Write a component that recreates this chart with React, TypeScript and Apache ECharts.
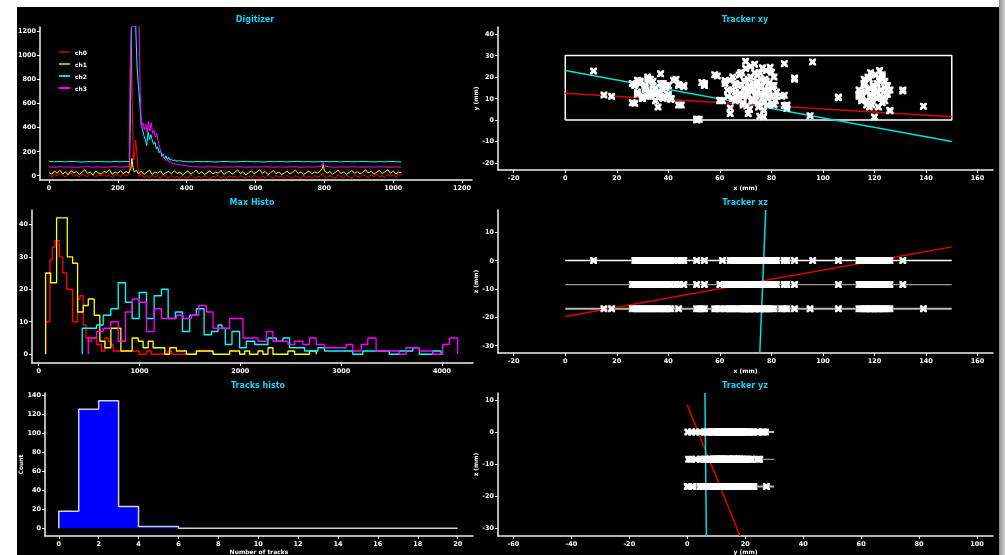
import React, { useEffect, useRef } from 'react';
import * as echarts from 'echarts';

const FONT = 'DejaVu Sans';

// ---------- Digitizer (sample index, ADC value) ----------
const CH0: number[][] = [[0,5],[8,-8],[16,12],[24,-3],[32,18],[40,2],[48,-10],[56,9],[64,22],[72,-5],[80,6],[88,-12],[96,14],[104,1],[112,-7],[120,19],[128,4],[136,-9],[144,11],[152,-2],[160,16],[168,-6],[176,8],[184,-14],[192,10],[200,3],[208,-8],[216,15],[224,-4],[230,6],[234,40],[237,600],[240,1070],[243,400],[246,130],[249,180],[252,296],[255,200],[258,75],[262,-10],[268,20],[276,-18],[284,5],[292,-22],[300,10],[308,-15],[316,2],[324,-25],[332,8],[340,-12],[348,-20],[356,4],[364,-16],[372,-6],[380,-24],[388,3],[396,-14],[404,-20],[412,6],[420,-10],[428,-22],[436,-4],[444,-18],[452,2],[460,-12],[468,-26],[476,-5],[484,-15],[492,8],[500,-20],[508,-8],[516,-24],[524,0],[532,-14],[540,-6],[548,-20],[556,4],[564,-12],[572,-22],[580,-3],[588,-16],[596,6],[604,-10],[612,-24],[620,-2],[628,-18],[636,8],[644,-8],[652,-20],[660,2],[668,-14],[676,-4],[684,-22],[692,5],[700,-12],[708,-18],[716,0],[724,-10],[732,-24],[740,4],[748,-15],[756,-6],[764,-20],[772,3],[780,-12],[788,-2],[796,20],[800,-8],[808,-18],[816,2],[824,-12],[832,-22],[840,6],[848,-8],[856,-16],[864,4],[872,-10],[880,-20],[888,8],[896,-6],[904,-14],[912,10],[920,-4],[928,-18],[936,6],[944,-8],[952,12],[960,-12],[968,0],[976,-16],[984,14],[992,-6],[1000,8],[1008,-10],[1016,16],[1023,2]];
const CH1: number[][] = [[0,25],[8,12],[16,38],[24,20],[32,45],[40,15],[48,30],[56,8],[64,42],[72,22],[80,35],[88,10],[96,28],[104,48],[112,18],[120,32],[128,5],[136,40],[144,22],[152,14],[160,36],[168,25],[176,50],[184,12],[192,30],[200,20],[208,42],[216,16],[224,34],[232,22],[238,60],[241,144],[244,70],[248,30],[254,45],[260,15],[268,38],[276,10],[284,28],[292,45],[300,12],[308,30],[316,20],[324,40],[332,8],[340,26],[348,35],[356,15],[364,42],[372,18],[380,30],[388,5],[396,24],[404,38],[412,12],[420,28],[428,46],[436,16],[444,32],[452,8],[460,25],[468,40],[476,14],[484,30],[492,20],[500,44],[508,10],[516,26],[524,36],[532,12],[540,28],[548,48],[556,18],[564,32],[572,6],[580,24],[588,40],[596,15],[604,30],[612,50],[620,20],[628,35],[636,10],[644,26],[652,42],[660,16],[668,30],[676,8],[684,22],[692,38],[700,14],[708,28],[716,45],[724,18],[732,32],[740,10],[748,24],[756,40],[764,16],[772,30],[780,22],[788,36],[794,60],[797,90],[800,40],[808,20],[816,34],[824,12],[832,28],[840,46],[848,18],[856,32],[864,10],[872,26],[880,42],[888,20],[896,34],[904,14],[912,30],[920,48],[928,22],[936,36],[944,12],[952,28],[960,44],[968,16],[976,32],[984,50],[992,20],[1000,38],[1008,14],[1016,30],[1023,24]];
const CH2: number[][] = [[0,118],[16,115],[32,117],[48,114],[64,118],[80,116],[96,113],[112,117],[128,115],[144,118],[160,116],[176,114],[192,117],[208,115],[224,118],[234,116],[237,600],[240,1240],[252,1240],[256,900],[260,750],[264,600],[268,420],[272,380],[276,330],[280,300],[284,250],[288,360],[292,300],[296,340],[300,295],[304,260],[308,280],[312,220],[316,240],[320,190],[324,210],[328,160],[332,180],[336,140],[340,165],[344,130],[348,155],[352,128],[356,140],[360,122],[366,130],[372,120],[380,125],[390,118],[400,116],[416,114],[432,118],[448,115],[464,117],[480,113],[496,116],[512,118],[528,115],[544,114],[560,117],[576,119],[592,115],[608,116],[624,113],[640,117],[656,115],[672,118],[688,114],[704,116],[720,119],[736,115],[752,117],[768,114],[784,116],[800,118],[816,115],[832,117],[848,114],[864,118],[880,116],[896,115],[912,119],[928,116],[944,114],[960,117],[976,115],[992,118],[1008,116],[1023,114]];
const CH3: number[][] = [[0,72],[16,70],[32,74],[48,71],[64,73],[80,69],[96,72],[112,75],[128,71],[144,73],[160,70],[176,72],[192,74],[208,71],[224,72],[233,75],[236,905],[239,1240],[250,1240],[262,1240],[265,700],[269,400],[273,440],[277,380],[281,430],[285,360],[289,448],[293,370],[297,440],[301,350],[305,380],[309,320],[313,350],[317,290],[321,240],[325,200],[329,185],[333,160],[337,140],[341,120],[345,135],[349,110],[353,118],[357,102],[361,100],[370,95],[380,90],[390,88],[400,80],[416,76],[432,73],[448,71],[464,74],[480,72],[496,70],[512,73],[528,71],[544,74],[560,72],[576,70],[592,73],[608,71],[624,74],[640,72],[656,70],[672,73],[688,71],[704,74],[720,72],[736,70],[752,73],[768,71],[784,74],[792,78],[796,110],[800,80],[816,72],[832,70],[848,73],[864,71],[880,74],[896,72],[912,70],[928,73],[944,71],[960,74],[976,72],[992,70],[1008,73],[1023,71]];
const CHANNELS = ['ch0', 'ch1', 'ch2', 'ch3'];

// ---------- Max Histo (bin edges, counts) ----------
const H0_EDGES = [69,112,135,162,205,238,277,337,386,409,442,469,492,525,574,624,657,690,716,739,779,997,1069,1118,1284,1320,1564,1729];
const H0_COUNTS = [10,29,33,35,30,25,20,10,17,18,9,5,4,5,3,1,5,4,3,1,1,0,1,0,1,0,1];
const H1_EDGES = [69,119,178,284,337,386,442,492,551,607,657,716,815,927,987,1036,1086,1135,1185,1251,1300,1366,1465,1564,1729,1894,1993,2043,2092,2175,2224,2274,2323,2472,2538,2686,2752];
const H1_COUNTS = [25,22,42,30,28,13,15,17,12,4,2,8,1,5,4,2,4,2,2,0,2,1,0,1,0,1,0,1,0,1,0,2,0,1,0,1];
const H2_EDGES = [432,574,640,716,789,861,927,997,1069,1145,1218,1284,1356,1426,1498,1564,1640,1713,1779,1818,1851,1917,1993,2059,2142,2274,2356,2422,2488,2637,2769,2835,3115,3214,3478,3577,3709,3775,3907,3990];
const H2_COUNTS = [8,9,12,14,22,16,11,19,11,18,20,11,13,7,12,14,6,7,9,8,3,7,2,4,3,5,4,5,2,1,2,1,0,1,0,1,2,0,1];
const H3_EDGES = [492,574,640,716,789,861,927,997,1069,1145,1218,1366,1432,1515,1587,1663,1729,1894,2026,2175,2257,2323,2472,2538,2620,2686,2752,2835,3049,3115,3198,3264,3346,3577,3643,3775,3907,4006,4072,4155];
const H3_COUNTS = [5,7,8,10,4,13,17,16,7,14,11,12,11,12,15,13,8,11,5,4,7,4,3,4,3,5,3,2,3,1,3,5,1,0,2,1,0,3,5];

// ---------- Tracks histo ----------
const NTRACK_EDGES = [0,1,2,3,4,5,6,20];
const NTRACK_COUNTS = [18,125,134,23,2,2,0];

// ---------- Tracker hits [x, y] per layer ----------
const LAYER_Z = [0, -8.5, -17];
const HITS_L0: number[][] = [[11,22.8],[27,16.5],[28,18.5],[29,17],[30,11],[31,15],[32,20],[33,13],[34,18],[35,12],[36,10.5],[37,21.5],[38,14],[39,16],[40,11],[41,10],[42,18.5],[44,16.5],[45,7],[46,15.5],[51,0.2],[54,17],[61,9],[64,18.5],[65,14],[66,9],[67,16],[67.5,21],[68,12],[69,7],[69.5,18],[70,24],[70.5,13],[71,3],[71.5,16],[72,20],[72.5,9],[73,14],[73.5,26],[74,11],[74.5,18],[75,6],[75.5,22],[76,15],[76.5,10],[77,1.5],[77.5,19],[78,13],[78.5,7],[79,17],[79.5,24.5],[80,11],[80.5,15],[81,20],[81.5,9],[82,13],[85,26.2],[86,6.7],[89,19.2],[96,27],[106,10.5],[114,11],[115,13],[116,16],[117,9],[118,19],[118.5,12],[119,7],[120,15],[120.5,21],[121,10],[122,23],[122.5,14],[123,8],[124,18],[124.5,12],[125,16],[126,4.3],[131,14]];
const HITS_L1: number[][] = [[26,8],[27,16],[28,12],[29,18],[30,10],[31,14],[32,19],[33,11],[34,16],[35,9],[36,13],[37,17],[38,10],[39,15],[40,12],[41,9.5],[43,19],[44,16],[46,16],[51,0.5],[54,16.5],[60,9.2],[62,17],[63,11],[64,3],[65,20],[66,13],[67,9.5],[68,16.5],[68.5,22],[69,11],[70,18],[70.5,6.5],[71,14],[72,25],[72.5,10],[73,17],[74,13],[74.5,21],[75,8],[75.5,16],[76,12],[76.5,24.3],[77,4.5],[78,18],[78.5,10],[79,14],[80,22.2],[80.5,7.5],[81,16],[82,11],[85,11.5],[86,5.5],[89,19],[106,10.3],[114,12],[115,9],[116,17],[117,13],[117.5,20],[118,6],[119,11],[119.5,16],[120,1.4],[121,13],[122,18],[123,21.1],[123.5,10],[124,15],[125,12],[126,14],[131,13.5]];
const HITS_L2: number[][] = [[15,11.6],[18,11],[26,17],[27,7.8],[28,13],[29,18],[30,10],[31,16],[32,11],[33,19],[34,13],[35,15],[36,6],[37,11],[38,17],[39,10.5],[40,16],[41,10],[44,7],[51,0],[52,0.3],[53,17.5],[54,16],[58,21.1],[59,20.5],[60,9],[62,18.4],[63,14],[64,5.6],[65,10],[66,17],[67,12],[68,22],[69,8],[69.5,15],[70,27.3],[70.5,11],[71,19],[71.5,5],[72,14],[73,9],[73.5,22],[74,16],[75,12],[75.5,1.7],[76,19],[77,8],[77.5,14],[78,23],[79,11],[80,16],[81,7],[84,11],[85,6.7],[86,7],[89,19.5],[95,2],[106,10.7],[114,14],[115,10],[116,19],[117,7],[118,15],[118.5,22],[119,9],[120,13],[121,17],[121.5,6],[122,11],[123,20],[124,9],[125,13.5],[126,4.5],[139,6.4]];
const DETECTOR_X = [0, 150];
const DETECTOR_Y = [0, 30];

// ---------- Fitted tracks ----------
const TRACK_XY_CYAN = [[0,23],[150,-10]];
const TRACK_XY_RED = [[0,12.5],[150,1.5]];
const TRACK_XZ_RED = [[0,-19.7],[150,4.8]];
const TRACK_XZ_CYAN = [[75.5,-32.6],[77.8,17.8]];
const TRACK_YZ_RED = [[0,8.5],[18.2,-32.4]];
const TRACK_YZ_CYAN = [[6.1,12.2],[6.6,-32.4]];

const XMARK = 'path://M0,0L3,0L5,2L7,0L10,0L10,3L8,5L10,7L10,10L7,10L5,8L3,10L0,10L0,7L2,5L0,3Z';
const TITLE_COLOR = '#12d2f6';

function stepData(edges: number[], counts: number[]) {
  const d: number[][] = [[edges[0], 0]];
  counts.forEach((c, i) => d.push([edges[i], c]));
  d.push([edges[edges.length - 1], 0]);
  return d;
}

function axis(gridIndex: number, min: number, max: number, split: number, extra: any = {}) {
  return {
    type: 'value', gridIndex, min, max, splitNumber: split, scale: true,
    axisLine: { show: true, onZero: false, lineStyle: { color: '#f0f0f0', width: 1.5 } },
    axisTick: { show: true, length: 3, lineStyle: { color: '#f0f0f0', width: 1 } },
    axisLabel: { color: '#ffffff', fontSize: 6.5, fontFamily: FONT, fontWeight: 'bold', margin: 4, showMinLabel: false, showMaxLabel: false, formatter: (v: number) => String(v) },
    splitLine: { show: false },
    nameTextStyle: { color: '#ffffff', fontSize: 6, fontFamily: FONT, fontWeight: 'bold' },
    ...extra,
  };
}

function line(xi: number, data: number[][], color: string, width = 1, extra: any = {}) {
  return { type: 'line', xAxisIndex: xi, yAxisIndex: xi, data, showSymbol: false, symbol: 'none', lineStyle: { color, width }, itemStyle: { color }, silent: true, ...extra };
}

function hits(xi: number, data: number[][]) {
  return { type: 'scatter', xAxisIndex: xi, yAxisIndex: xi, data, symbol: XMARK, symbolSize: 7, itemStyle: { color: '#ffffff', opacity: 1 }, silent: true, z: 5 };
}

function title(text: string, x: number, y: number) {
  return { type: 'text', x, y, z: 10, style: { text, fill: TITLE_COLOR, font: `bold 8px "${FONT}"`, align: 'center', verticalAlign: 'middle' } };
}

export default function App() {
  const ref = useRef<HTMLDivElement>(null);
  useEffect(() => {
    const chart = echarts.init(ref.current!, null, { renderer: 'svg', width: 1005, height: 555 });
    const allHits = [...HITS_L0, ...HITS_L1, ...HITS_L2];
    const layers = [HITS_L0, HITS_L1, HITS_L2];
    const xzHits = layers.flatMap((L, i) => L.map((p) => [p[0], LAYER_Z[i]]));
    const yzHits = layers.flatMap((L, i) => L.map((p) => [p[1], LAYER_Z[i]]));
    const layerColors = ['#ffffff', '#9a9a9a', '#b8b8b8'];
    const layerWidths = [1.5, 1.2, 2];
    const box = [[DETECTOR_X[0], DETECTOR_Y[0]], [DETECTOR_X[1], DETECTOR_Y[0]], [DETECTOR_X[1], DETECTOR_Y[1]], [DETECTOR_X[0], DETECTOR_Y[1]], [DETECTOR_X[0], DETECTOR_Y[0]]];

    const option: any = {
      animation: false,
      backgroundColor: 'transparent',
      graphic: [
        { type: 'rect', z: -10, shape: { x: 17, y: 7, width: 982, height: 548 }, style: { fill: '#000000' } },
        { type: 'rect', z: -10, shape: { x: 999, y: 0, width: 6, height: 555 }, style: { fill: new echarts.graphic.LinearGradient(0, 0, 1, 0, [{ offset: 0, color: '#8c8c8c' }, { offset: 1, color: '#d4d4d4' }]) } },
        title('Digitizer', 255, 19),
        title('Max Histo', 252, 202),
        title('Tracks histo', 258, 385),
        title('Tracker xy', 745, 19),
        title('Tracker xz', 745, 202),
        title('Tracker yz', 745, 385),
      ],
      legend: {
        show: true, orient: 'vertical', left: 59, top: 49, padding: 0, itemWidth: 11, itemHeight: 2, itemGap: 6, icon: 'rect',
        textStyle: { color: '#ffffff', fontSize: 6, fontFamily: FONT, fontWeight: 'bold' },
        data: [
          { name: 'ch0', itemStyle: { color: '#a00000' } },
          { name: 'ch1', itemStyle: { color: '#8cc000' } },
          { name: 'ch2', itemStyle: { color: '#00dcdc' } },
          { name: 'ch3', itemStyle: { color: '#ff00ff' } },
        ],
      },
      grid: [
        { left: 40, top: 27, width: 432, height: 153, outerBoundsMode: 'none' },
        { left: 32, top: 210, width: 441, height: 153, outerBoundsMode: 'none' },
        { left: 45, top: 393, width: 428, height: 143, outerBoundsMode: 'none' },
        { left: 498, top: 27, width: 495, height: 143, outerBoundsMode: 'none' },
        { left: 498, top: 210, width: 495, height: 143, outerBoundsMode: 'none' },
        { left: 498, top: 393, width: 495, height: 143, outerBoundsMode: 'none' },
      ],
      xAxis: [
        axis(0, -26, 1229, 6),
        axis(1, -66, 4307, 5),
        axis(2, -0.69, 20.77, 10, { name: 'Number of tracks', nameLocation: 'middle', nameGap: 12 }),
        axis(3, -26.1, 166, 10, { name: 'x (mm)', nameLocation: 'middle', nameGap: 14 }),
        axis(4, -26.1, 166, 10, { name: 'x (mm)', nameLocation: 'middle', nameGap: 14 }),
        axis(5, -65.3, 105.5, 9, { name: 'y (mm)', nameLocation: 'middle', nameGap: 12 }),
      ],
      yAxis: [
        axis(0, -36, 1233, 6),
        axis(1, -2.7, 44.4, 5),
        axis(2, -8.1, 142.1, 8, { name: 'Count', nameLocation: 'middle', nameGap: 20 }),
        axis(3, -23.3, 43.3, 6, { name: 'y (mm)', nameLocation: 'middle', nameGap: 14 }),
        axis(4, -32.6, 17.8, 5, { name: 'z (mm)', nameLocation: 'middle', nameGap: 14 }),
        axis(5, -32.4, 12.2, 5, { name: 'z (mm)', nameLocation: 'middle', nameGap: 14 }),
      ],
      series: [
        line(0, CH0, '#ff0000', 1, { name: CHANNELS[0] }),
        line(0, CH1, '#ffff00', 1, { name: CHANNELS[1] }),
        line(0, CH2, '#00ffff', 1, { name: CHANNELS[2] }),
        line(0, CH3, '#ff00ff', 1, { name: CHANNELS[3] }),

        line(1, stepData(H0_EDGES, H0_COUNTS), '#ff0000', 1.3, { step: 'end' }),
        line(1, stepData(H1_EDGES, H1_COUNTS), '#ffff00', 1.3, { step: 'end' }),
        line(1, stepData(H2_EDGES, H2_COUNTS), '#00ffff', 1.3, { step: 'end' }),
        line(1, stepData(H3_EDGES, H3_COUNTS), '#ff00ff', 1.3, { step: 'end' }),

        line(2, stepData(NTRACK_EDGES, NTRACK_COUNTS), '#d0d0d0', 1.5, { step: 'end', areaStyle: { color: '#0000ff', opacity: 1 } }),

        line(3, box, '#ffffff', 1.5),
        line(3, TRACK_XY_CYAN, '#00e0e0', 1.5),
        line(3, TRACK_XY_RED, '#e00000', 1.5),
        hits(3, allHits),

        ...LAYER_Z.map((z, i) => line(4, [[DETECTOR_X[0], z], [DETECTOR_X[1], z]], layerColors[i], layerWidths[i])),
        line(4, TRACK_XZ_RED, '#e00000', 1.5),
        line(4, TRACK_XZ_CYAN, '#00e0e0', 1.5),
        hits(4, xzHits),

        ...LAYER_Z.map((z, i) => line(5, [[DETECTOR_Y[0], z], [DETECTOR_Y[1], z]], layerColors[i], layerWidths[i])),
        line(5, TRACK_YZ_RED, '#e00000', 1.5),
        line(5, TRACK_YZ_CYAN, '#00e0e0', 1.5),
        hits(5, yzHits),
      ],
    };
    chart.setOption(option);
    return () => chart.dispose();
  }, []);
  return <div ref={ref} style={{ position: 'fixed', left: 0, top: 0, width: 1005, height: 555 }} />;
}
